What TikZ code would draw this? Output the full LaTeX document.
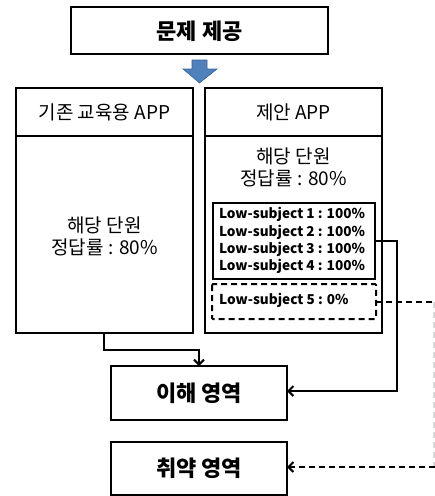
\documentclass[tikz,border=0pt]{standalone}
\usepackage{fontspec}
\setmainfont{Noto Sans CJK KR}
\newfontfamily\kr{Noto Sans CJK KR}
\usetikzlibrary{arrows.meta}
\definecolor{arrowblue}{HTML}{4F81BD}
\definecolor{arrowedge}{HTML}{3A6494}
\tikzset{
  box/.style={draw=black, line width=2.2pt, inner sep=0pt},
  conn/.style={draw=black, line width=2pt, -{Straight Barb[length=5pt,width=10pt,line width=2pt]}},
  dconn/.style={draw=black, line width=2pt, dash pattern=on 6pt off 4pt, -{Straight Barb[length=5pt,width=10pt,line width=2pt]}},
  plain/.style={font=\kr\fontsize{19}{22}\selectfont, align=center, inner sep=0pt},
  bigb/.style={font=\kr\bfseries\fontsize{22}{26}\selectfont, inner sep=0pt},
  lowb/.style={font=\kr\bfseries\fontsize{13.6}{17.3}\selectfont, align=left, inner sep=0pt},
}
\begin{document}
\begin{tikzpicture}[x=1pt,y=-1pt]
\useasboundingbox (0,0) rectangle (435,496);
% top box
\draw[box] (71,7) rectangle (328,54);
\node[bigb] (top) at (199.5,31) {문제 제공};
% blue arrow
\draw[fill=arrowblue, draw=arrowedge, line width=0.6pt]
  (192,60) -- (207,60) -- (207,69) -- (217,69) -- (199.5,83) -- (183,69) -- (192,69) -- cycle;
% left box
\draw[box] (16,88) rectangle (193,333);
\draw[line width=2.2pt] (16,136) -- (193,136);
\node[plain] (lh) at (104.5,112) {기존 교육용 APP};
\node[plain] (lt) at (104.5,236) {해당 단원\\정답률 : 80\%};
\coordinate (lb) at (104,333);
% right box
\draw[box] (205,88) rectangle (382,333);
\draw[line width=2.2pt] (205,136) -- (382,136);
\node[plain] (rh) at (293.5,112) {제안 APP};
\node[plain] (rt) at (293.5,167) {해당 단원\\정답률 : 80\%};
% inner solid box
\draw[draw=black, line width=2pt] (213,203) rectangle (375,279);
\node[lowb] (s14) at (292,240.5) {Low-subject 1 : 100\%\\Low-subject 2 : 100\%\\Low-subject 3 : 100\%\\Low-subject 4 : 100\%};
\coordinate (s14r) at (375,241);
% dashed box
\draw[draw=black, line width=2pt, dash pattern=on 6pt off 4pt, rounded corners=1pt] (212,284) rectangle (376,319);
\node[lowb, anchor=west] (s5) at (219,300.5) {Low-subject 5 : 0\%};
\coordinate (s5r) at (376,302);
% bottom boxes
\draw[box] (111,366) rectangle (287,420);
\node[bigb] (und) at (199,393) {이해 영역};
\draw[box] (111,442) rectangle (287,495);
\node[bigb] (weak) at (199,468.5) {취약 영역};
\coordinate (undtop) at (199,366);
\coordinate (undr) at (287,391);
\coordinate (weakr) at (287,467);
% connectors
\draw[conn] (lb) -- (104,350) -- (199,350) -- (undtop);
\draw[conn] (s14r) -- (397,241) -- (397,391) -- (undr);
\draw[draw=black!15, line width=1.5pt, dash pattern=on 6pt off 4pt] (434,302) -- (434,467);
\draw[dconn] (s5r) -- (435,302) (435,467) -- (weakr);
\end{tikzpicture}
\end{document}
